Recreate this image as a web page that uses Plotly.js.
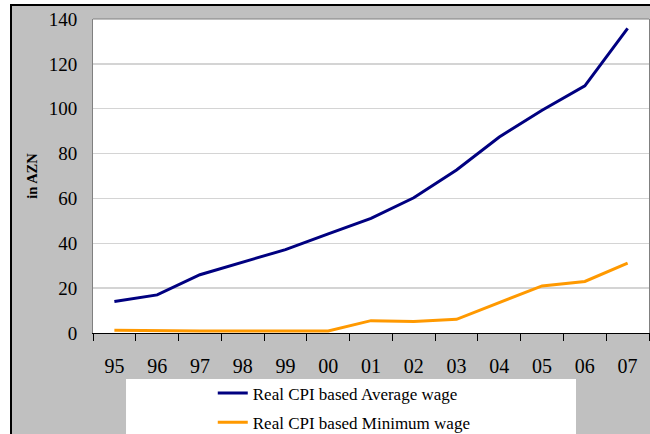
<!DOCTYPE html>
<html>
<head>
<meta charset="utf-8">
<script src="https://cdn.plot.ly/plotly-3.0.1.min.js"></script>
<style>
html,body{margin:0;padding:0;width:650px;height:434px;overflow:hidden;background:#ffffff;}
#frame{position:absolute;left:10px;top:4px;width:700px;height:500px;border:2px solid #000;background:#c0c0c0;}
#chart{position:absolute;left:0;top:0;width:650px;height:434px;}
</style>
</head>
<body>
<div id="frame"></div>
<div id="chart"></div>
<script>
var years = ["95","96","97","98","99","00","01","02","03","04","05","06","07"];
var averageWage = [14.0, 17.0, 26.0, 31.5, 37.2, 44.2, 51.1, 60.3, 72.7, 87.4, 99.3, 110.2, 135.8];
var minimumWage = [1.2, 0.9, 0.9, 0.9, 1.0, 0.9, 5.5, 5.1, 6.1, 13.5, 21.0, 23.0, 31.2];
var seriesNames = ["Real CPI based Average wage", "Real CPI based Minimum wage"];

var serif = "Liberation Serif";

var traces = [
  {x: years, y: averageWage, name: seriesNames[0], type: "scatter", mode: "lines",
   line: {color: "#000080", width: 3}, legendgroup: "a"},
  {x: years, y: minimumWage, name: seriesNames[1], type: "scatter", mode: "lines",
   line: {color: "#FF9900", width: 3}, legendgroup: "b"}
];

var layout = {
  width: 650, height: 434,
  margin: {l: 93, r: 1, t: 19, b: 101, pad: 0, autoexpand: false},
  paper_bgcolor: "rgba(0,0,0,0)",
  plot_bgcolor: "#ffffff",
  showlegend: true,
  font: {family: serif, color: "#000000"},
  xaxis: {
    type: "category",
    range: [-0.5, 12.5],
    showgrid: false,
    showline: true, linecolor: "#000000", linewidth: 1,
    ticks: "outside", tickson: "boundaries", ticklen: 7, tickcolor: "#000000", tickwidth: 1,
    tickfont: {family: serif, size: 20, color: "#000000"},
    ticklabelstandoff: 15,
    tickangle: 0,
    automargin: false,
    zeroline: false, fixedrange: true
  },
  yaxis: {
    range: [0, 140], dtick: 20,
    showgrid: true, gridcolor: "#d4d4d4", gridwidth: 1.3,
    showline: true, linecolor: "#808080", linewidth: 1, mirror: true,
    ticks: "", zeroline: false,
    tickfont: {family: serif, size: 19, color: "#000000"},
    ticklabelstandoff: 11,
    automargin: false,
    title: {text: "<b>in AZN</b>", font: {family: serif, size: 14.5, color: "#000000"}, standoff: 7}
  },
  shapes: [
    {type: "rect", xref: "paper", yref: "paper", x0: 0.0594, x1: 0.8687, y0: -0.40, y1: -0.1465,
     fillcolor: "#ffffff", line: {width: 0}, layer: "below"},
    {type: "line", xref: "paper", yref: "paper", x0: 0, x1: 1, y0: 1, y1: 1,
     line: {color: "#808080", width: 1}}
  ],
  legend: {
    x: 0.2154, xanchor: "left", y: -0.3424, yanchor: "bottom",
    bgcolor: "rgba(0,0,0,0)", borderwidth: 0,
    font: {family: serif, size: 17, color: "#000000"},
    tracegroupgap: 4, traceorder: "grouped"
  }
};

Plotly.newPlot("chart", traces, layout, {displayModeBar: false, staticPlot: true});
</script>
</body>
</html>
